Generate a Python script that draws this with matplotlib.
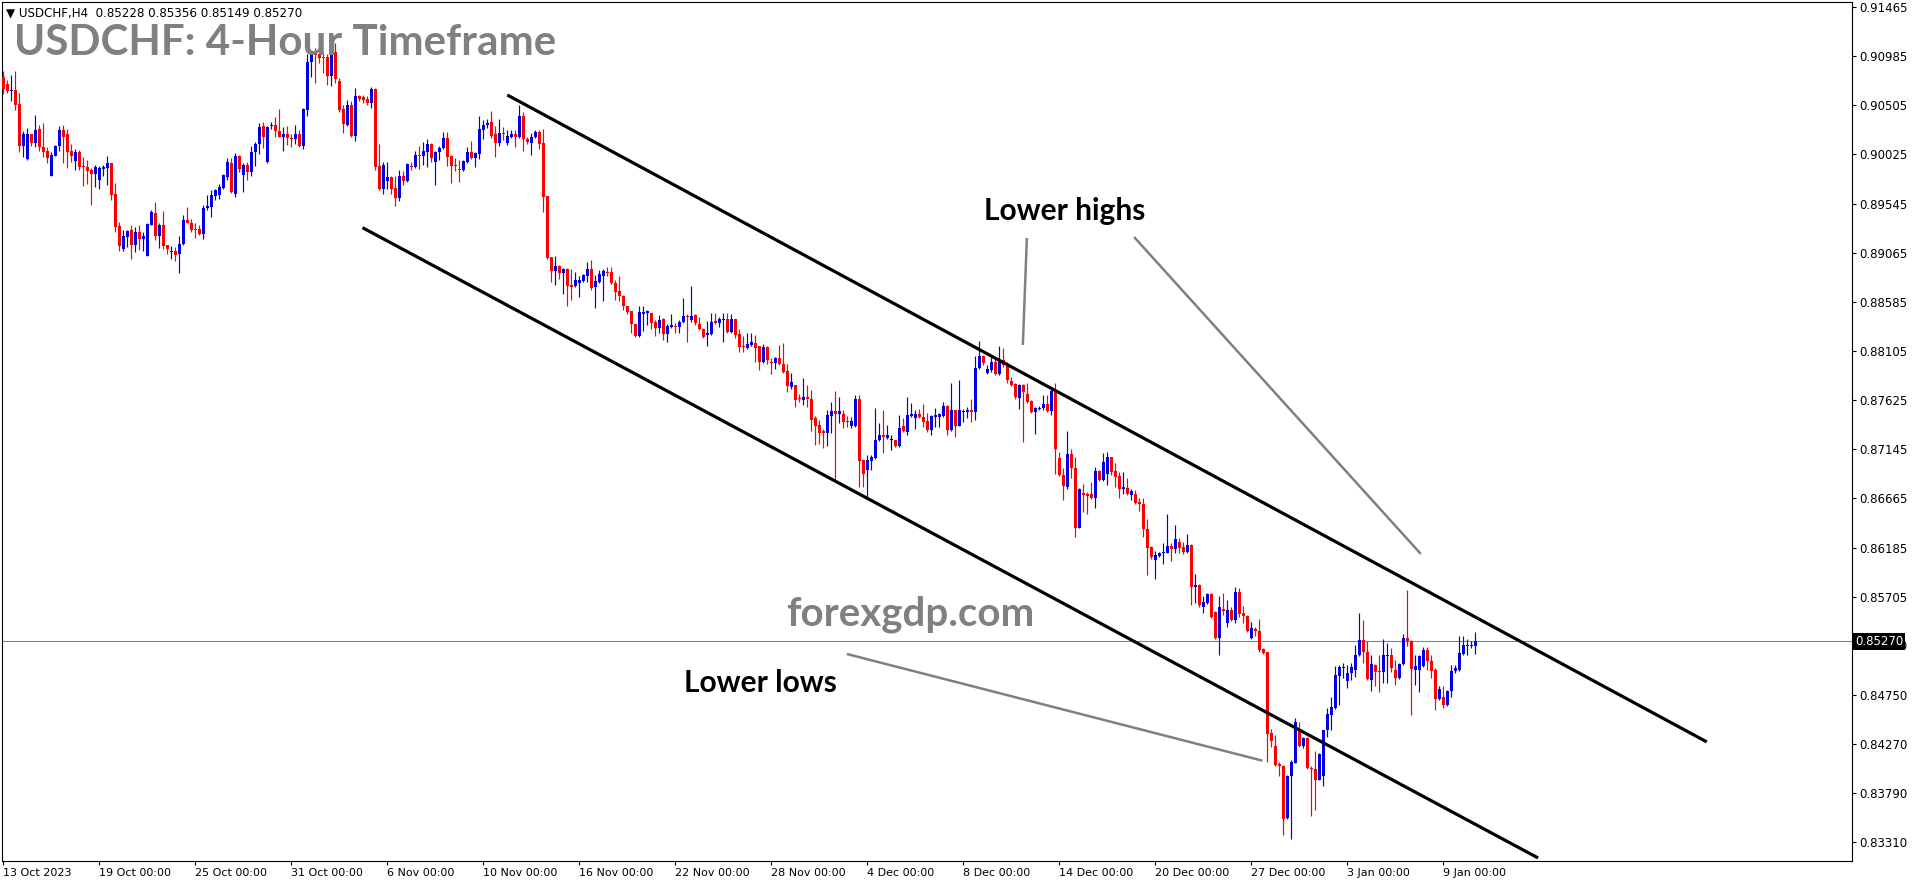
import matplotlib
matplotlib.use("Agg")
import matplotlib.pyplot as plt
import matplotlib.transforms as mtransforms
import numpy as np

W, H = 1916, 884

# USDCHF H4 candles, prices in pips (1/10000)
open_pips = [
    9078, 9071, 9064, 9065, 9052, 9011, 8998, 9022, 9014, 9027, 9010, 9006,
    8981, 9001, 9011, 9026, 9022, 9006, 8996, 9005, 8991, 8990, 8987, 8983,
    8978, 8988, 8989, 8994, 8964, 8933, 8910, 8922, 8929, 8914, 8927, 8920,
    8903, 8934, 8945, 8923, 8934, 8914, 8907, 8908, 8905, 8915, 8938, 8936,
    8930, 8930, 8925, 8950, 8951, 8962, 8963, 8970, 8980, 8994, 8964, 9001,
    8982, 8992, 8985, 9005, 9013, 9030, 8995, 9030, 9031, 9025, 9020, 9022,
    9019, 9018, 9022, 9011, 9046, 9093, 9103, 9101, 9098, 9098, 9079, 9103,
    9074, 9047, 9031, 9051, 9021, 9060, 9059, 9057, 9053, 9066, 8991, 8969,
    8977, 8980, 8970, 8960, 8981, 8977, 8991, 8990, 9002, 9001, 9005, 9013,
    8995, 9005, 9009, 9019, 9001, 8992, 8988, 8987, 8995, 9005, 8999, 9003,
    9026, 9031, 9034, 9022, 9014, 9023, 9014, 9020, 9022, 9020, 9040, 9018,
    9014, 9020, 9024, 9014, 8962, 8902, 8889, 8894, 8887, 8891, 8875, 8874,
    8877, 8879, 8884, 8891, 8873, 8878, 8884, 8888, 8888, 8877, 8869, 8864,
    8854, 8850, 8837, 8825, 8847, 8848, 8848, 8839, 8833, 8842, 8827, 8834,
    8835, 8834, 8839, 8845, 8841, 8846, 8837, 8832, 8826, 8827, 8840, 8838,
    8841, 8842, 8829, 8842, 8827, 8815, 8813, 8816, 8818, 8815, 8800, 8814,
    8800, 8799, 8804, 8798, 8791, 8775, 8777, 8765, 8763, 8766, 8764, 8745,
    8738, 8732, 8730, 8747, 8752, 8749, 8749, 8742, 8737, 8737, 8764, 8704,
    8694, 8703, 8706, 8724, 8728, 8726, 8724, 8724, 8718, 8737, 8731, 8747,
    8745, 8749, 8746, 8742, 8733, 8746, 8746, 8747, 8757, 8733, 8753, 8737,
    8751, 8751, 8753, 8751, 8794, 8806, 8789, 8792, 8800, 8788, 8802, 8797,
    8781, 8778, 8765, 8777, 8769, 8762, 8751, 8754, 8755, 8759, 8752, 8771,
    8706, 8689, 8678, 8710, 8696, 8638, 8672, 8671, 8671, 8667, 8693, 8685,
    8690, 8707, 8693, 8688, 8676, 8677, 8670, 8671, 8663, 8661, 8637, 8619,
    8606, 8610, 8613, 8613, 8620, 8617, 8624, 8619, 8614, 8621, 8580, 8582,
    8560, 8564, 8573, 8556, 8530, 8559, 8545, 8558, 8548, 8575, 8555, 8552,
    8530, 8539, 8537, 8519, 8517, 8437, 8425, 8407, 8405, 8354, 8395, 8408,
    8439, 8425, 8433, 8403, 8402, 8392, 8395, 8440, 8455, 8462, 8493, 8501,
    8488, 8496, 8499, 8514, 8528, 8517, 8489, 8504, 8498, 8497, 8513, 8514,
    8499, 8491, 8505, 8530, 8527, 8499, 8499, 8503, 8518, 8508, 8499, 8471,
    8473, 8465, 8478, 8498, 8499, 8515, 8522, 8522, 8522.8,
]
high_pips = [
    9084, 9075, 9080, 9084, 9063, 9025, 9028, 9022, 9041, 9031, 9033, 9010,
    9005, 9012, 9030, 9031, 9027, 9013, 9008, 9007, 9000, 8997, 8989, 8992,
    8991, 8992, 9001, 8994, 8975, 8937, 8929, 8929, 8934, 8932, 8934, 8927,
    8936, 8948, 8956, 8936, 8947, 8914, 8913, 8912, 8923, 8943, 8951, 8939,
    8936, 8934, 8953, 8963, 8968, 8969, 8974, 8983, 8999, 8999, 9004, 9002,
    8994, 8995, 9011, 9015, 9033, 9034, 9030, 9034, 9039, 9047, 9029, 9030,
    9022, 9031, 9026, 9048, 9101, 9104, 9106, 9104, 9102, 9101, 9105, 9111,
    9077, 9051, 9056, 9055, 9067, 9061, 9061, 9060, 9068, 9067, 9013, 8995,
    8995, 8981, 8981, 8987, 8986, 8994, 8995, 9006, 9011, 9015, 9018, 9014,
    9006, 9011, 9024, 9024, 9002, 8999, 8997, 8997, 9010, 9016, 9005, 9040,
    9036, 9037, 9045, 9030, 9037, 9029, 9026, 9026, 9026, 9051, 9044, 9020,
    9023, 9026, 9026, 9027, 8962, 8902, 8903, 8895, 8892, 8892, 8891, 8888,
    8884, 8886, 8897, 8899, 8885, 8890, 8891, 8893, 8893, 8880, 8884, 8865,
    8854, 8850, 8837, 8854, 8854, 8851, 8848, 8841, 8846, 8843, 8837, 8847,
    8838, 8841, 8862, 8847, 8874, 8847, 8844, 8833, 8840, 8848, 8848, 8844,
    8848, 8848, 8847, 8842, 8832, 8825, 8828, 8828, 8826, 8815, 8817, 8815,
    8804, 8805, 8816, 8818, 8798, 8789, 8777, 8769, 8784, 8777, 8772, 8747,
    8743, 8734, 8753, 8761, 8771, 8766, 8753, 8747, 8746, 8768, 8768, 8705,
    8709, 8709, 8755, 8740, 8753, 8738, 8728, 8724, 8748, 8745, 8766, 8760,
    8753, 8754, 8759, 8750, 8748, 8755, 8750, 8761, 8758, 8779, 8753, 8782,
    8754, 8756, 8764, 8806, 8820, 8807, 8797, 8806, 8803, 8815, 8813, 8800,
    8785, 8779, 8778, 8778, 8779, 8763, 8756, 8757, 8768, 8768, 8774, 8779,
    8712, 8696, 8732, 8715, 8707, 8677, 8681, 8673, 8683, 8697, 8694, 8711,
    8712, 8707, 8701, 8692, 8692, 8686, 8676, 8675, 8667, 8667, 8646, 8620,
    8615, 8614, 8623, 8651, 8623, 8641, 8628, 8624, 8632, 8622, 8593, 8583,
    8571, 8574, 8574, 8557, 8571, 8574, 8567, 8560, 8580, 8579, 8561, 8553,
    8546, 8541, 8549, 8520, 8517, 8441, 8435, 8409, 8406, 8396, 8411, 8452,
    8448, 8434, 8434, 8405, 8420, 8418, 8440, 8462, 8473, 8503, 8504, 8506,
    8504, 8506, 8523, 8555, 8548, 8527, 8514, 8505, 8514, 8529, 8525, 8520,
    8509, 8506, 8534, 8577, 8528, 8514, 8514, 8521, 8521, 8514, 8501, 8483,
    8483, 8479, 8504, 8504, 8532, 8532, 8529, 8527, 8535.6,
]
low_pips = [
    9062, 9063, 9055, 9046, 9005, 9000, 8997, 9011, 9010, 9006, 9000, 8994,
    8981, 9001, 9006, 8994, 8989, 8995, 8987, 8987, 8972, 8974, 8953, 8971,
    8969, 8981, 8973, 8958, 8927, 8908, 8908, 8912, 8900, 8907, 8909, 8908,
    8903, 8934, 8919, 8911, 8910, 8905, 8900, 8898, 8887, 8914, 8936, 8927,
    8921, 8924, 8920, 8948, 8941, 8958, 8959, 8969, 8978, 8965, 8961, 8985,
    8966, 8978, 8981, 8991, 9003, 9009, 8994, 9027, 9020, 9020, 9006, 9012,
    9010, 9013, 9010, 9008, 9040, 9078, 9072, 9092, 9082, 9070, 9069, 9072,
    9044, 9023, 9030, 9020, 9016, 9055, 9053, 9051, 9048, 8987, 8968, 8964,
    8969, 8964, 8952, 8957, 8973, 8976, 8987, 8989, 8988, 8992, 8990, 8995,
    8973, 8997, 9008, 8991, 8975, 8986, 8976, 8986, 8994, 8998, 8990, 8998,
    9018, 9028, 9019, 9000, 9011, 9017, 9012, 9019, 9010, 9019, 9006, 9013,
    9002, 9019, 9008, 8946, 8900, 8878, 8875, 8881, 8866, 8854, 8860, 8873,
    8863, 8878, 8878, 8870, 8853, 8877, 8859, 8884, 8876, 8860, 8859, 8851,
    8847, 8828, 8824, 8824, 8830, 8836, 8832, 8825, 8828, 8821, 8819, 8833,
    8828, 8828, 8838, 8819, 8839, 8836, 8831, 8823, 8815, 8826, 8837, 8834,
    8819, 8828, 8828, 8823, 8810, 8810, 8812, 8815, 8800, 8792, 8799, 8798,
    8788, 8793, 8797, 8789, 8770, 8773, 8756, 8761, 8758, 8756, 8732, 8719,
    8720, 8716, 8718, 8730, 8684, 8740, 8735, 8736, 8735, 8736, 8678, 8678,
    8667, 8694, 8705, 8723, 8711, 8725, 8714, 8717, 8717, 8731, 8728, 8746,
    8734, 8745, 8736, 8731, 8728, 8736, 8736, 8746, 8728, 8732, 8727, 8737,
    8741, 8745, 8741, 8743, 8793, 8797, 8788, 8790, 8787, 8787, 8795, 8779,
    8776, 8764, 8754, 8722, 8760, 8750, 8729, 8753, 8753, 8751, 8748, 8690,
    8688, 8665, 8676, 8686, 8629, 8638, 8653, 8651, 8666, 8657, 8684, 8684,
    8680, 8689, 8678, 8667, 8671, 8670, 8665, 8661, 8654, 8629, 8592, 8607,
    8588, 8609, 8602, 8613, 8605, 8613, 8613, 8612, 8613, 8562, 8564, 8560,
    8555, 8563, 8550, 8529, 8514, 8553, 8541, 8547, 8545, 8551, 8545, 8536,
    8529, 8532, 8517, 8515, 8409, 8424, 8405, 8395, 8338, 8353, 8334, 8408,
    8424, 8423, 8402, 8356, 8362, 8392, 8386, 8434, 8440, 8461, 8465, 8491,
    8481, 8489, 8492, 8513, 8506, 8489, 8478, 8483, 8477, 8486, 8486, 8497,
    8484, 8490, 8504, 8522, 8455, 8484, 8477, 8502, 8499, 8491, 8460, 8470,
    8462, 8464, 8473, 8496, 8498, 8514, 8514, 8520, 8514.9,
]
close_pips = [
    9066, 9064, 9065, 9051, 9011, 9022, 9022, 9014, 9026, 9010, 9005, 8999,
    9002, 9011, 9026, 9020, 9005, 9001, 9005, 8990, 8990, 8986, 8983, 8990,
    8989, 8990, 8994, 8963, 8932, 8913, 8923, 8928, 8914, 8927, 8920, 8923,
    8935, 8946, 8923, 8934, 8913, 8910, 8908, 8904, 8915, 8938, 8936, 8929,
    8929, 8925, 8950, 8952, 8963, 8968, 8971, 8982, 8995, 8966, 9001, 8988,
    8992, 8985, 9005, 9013, 9029, 9020, 9029, 9031, 9025, 9020, 9022, 9019,
    9018, 9022, 9011, 9047, 9093, 9102, 9100, 9097, 9097, 9079, 9104, 9076,
    9046, 9032, 9051, 9021, 9060, 9057, 9056, 9053, 9066, 8990, 8969, 8992,
    8980, 8969, 8960, 8981, 8977, 8993, 8990, 9002, 9001, 9006, 9013, 8999,
    9005, 9009, 9019, 9000, 8991, 8991, 8987, 8996, 9005, 8999, 9004, 9027,
    9031, 9033, 9021, 9014, 9023, 9022, 9021, 9022, 9020, 9040, 9018, 9015,
    9020, 9024, 9013, 8961, 8901, 8889, 8894, 8887, 8891, 8874, 8873, 8880,
    8880, 8885, 8891, 8872, 8879, 8886, 8889, 8887, 8877, 8868, 8864, 8854,
    8849, 8837, 8825, 8849, 8849, 8850, 8838, 8833, 8841, 8827, 8835, 8836,
    8834, 8839, 8845, 8844, 8845, 8838, 8832, 8824, 8828, 8839, 8838, 8842,
    8842, 8829, 8842, 8826, 8814, 8814, 8817, 8819, 8813, 8800, 8814, 8802,
    8799, 8804, 8798, 8790, 8776, 8780, 8763, 8764, 8766, 8764, 8743, 8737,
    8730, 8730, 8748, 8752, 8749, 8752, 8741, 8741, 8742, 8764, 8703, 8690,
    8704, 8707, 8724, 8728, 8727, 8728, 8724, 8718, 8735, 8732, 8748, 8749,
    8749, 8746, 8741, 8733, 8747, 8748, 8749, 8757, 8733, 8753, 8737, 8753,
    8752, 8753, 8751, 8794, 8806, 8799, 8793, 8800, 8788, 8802, 8797, 8782,
    8777, 8766, 8777, 8770, 8761, 8751, 8755, 8755, 8759, 8752, 8771, 8715,
    8689, 8679, 8710, 8696, 8638, 8676, 8670, 8669, 8667, 8693, 8685, 8702,
    8707, 8692, 8687, 8676, 8678, 8671, 8674, 8662, 8661, 8637, 8618, 8609,
    8611, 8613, 8614, 8620, 8617, 8627, 8618, 8614, 8621, 8580, 8582, 8562,
    8565, 8573, 8551, 8530, 8560, 8557, 8558, 8548, 8575, 8554, 8552, 8537,
    8540, 8537, 8518, 8516, 8436, 8430, 8406, 8405, 8353, 8395, 8409, 8448,
    8425, 8433, 8403, 8402, 8392, 8417, 8440, 8456, 8463, 8494, 8502, 8502,
    8496, 8502, 8514, 8528, 8517, 8490, 8505, 8497, 8497, 8514, 8514, 8501,
    8491, 8505, 8530, 8527, 8500, 8503, 8513, 8518, 8508, 8498, 8471, 8480,
    8465, 8478, 8498, 8501, 8516, 8523, 8523, 8523, 8527.0,
]

date_labels = ['13 Oct 2023', '19 Oct 00:00', '25 Oct 00:00', '31 Oct 00:00',
               '6 Nov 00:00', '10 Nov 00:00', '16 Nov 00:00', '22 Nov 00:00',
               '28 Nov 00:00', '4 Dec 00:00', '8 Dec 00:00', '14 Dec 00:00',
               '20 Dec 00:00', '27 Dec 00:00', '3 Jan 00:00', '9 Jan 00:00']
BARS_PER_LABEL = 24

price_ticks = [0.91465, 0.90985, 0.90505, 0.90025, 0.89545, 0.89065, 0.88585,
               0.88105, 0.87625, 0.87145, 0.86665, 0.86185, 0.85705, 0.85230,
               0.84750, 0.84270, 0.83790, 0.83310]
last_price = 0.85270
header = "\u25BC USDCHF,H4  0.85228 0.85356 0.85149 0.85270"

# trend channel and pointer lines as (bar index, price)
upper_channel = ([126.0, 425.9], [0.90606, 0.84287])
lower_channel = ([89.8, 383.7], [0.89310, 0.83154])
pointer_highs_a = ([255.9, 254.9], [0.89209, 0.88164])
pointer_highs_b = ([282.7, 354.4], [0.89219, 0.86123])
pointer_lows = ([210.9, 314.8], [0.85146, 0.84104])

o = np.array(open_pips) / 1e4
c = np.array(close_pips) / 1e4
h = np.maximum(np.array(high_pips) / 1e4, np.maximum(o, c))
l = np.minimum(np.array(low_pips) / 1e4, np.minimum(o, c))
idx = np.arange(len(o))

BULL = '#0000e6'
BEAR = '#ff0000'
colors = np.where(c > o, BULL, np.where(c < o, BEAR, '#000000'))

fig = plt.figure(figsize=(W / 100, H / 100), dpi=100)
ax = fig.add_axes([2 / W, 1 - 861 / H, 1850 / W, 859 / H])
ax.set_xlim(-0.33, 462.2)
ax.set_ylim(0.83124, 0.91514)

ax.vlines(idx, l, h, colors=colors, lw=0.85, zorder=2)
body_lo = np.minimum(o, c)
body_h = np.maximum(np.abs(c - o), 0.00008)
ax.bar(idx, body_h, bottom=body_lo, width=0.75, color=colors, linewidth=0, zorder=3)

ax.axhline(last_price, color='#778899', lw=0.8, zorder=1)

for xs, ys in (upper_channel, lower_channel):
    ax.plot(xs, ys, color='black', lw=2.3, solid_capstyle='butt', zorder=4)
for xs, ys in (pointer_highs_a, pointer_highs_b, pointer_lows):
    ax.plot(xs, ys, color='#808080', lw=1.8, solid_capstyle='butt', zorder=4)

ann_font = dict(family='Lato', weight='bold')
ax.text(245.2, 0.89385, 'Lower highs', fontsize=21.5, color='black', ha='left', va='baseline', **ann_font)
ax.text(170.2, 0.84775, 'Lower lows', fontsize=21.5, color='black', ha='left', va='baseline', **ann_font)
ax.text(195.7, 0.85429, 'forexgdp.com', fontsize=29, color='#808080', ha='left', va='baseline', **ann_font)

fig.text(14 / W, 1 - 55 / H, 'USDCHF: 4-Hour Timeframe', fontsize=30.3, color='#808080',
         ha='left', va='baseline', **ann_font)
fig.text(6 / W, 1 - 13 / H, header, fontsize=8.6, color='black', ha='left', va='center',
         family='DejaVu Sans')

# axes styling like the terminal
for s in ax.spines.values():
    s.set_color('black')
    s.set_linewidth(0.8)
ax.yaxis.tick_right()
ax.set_yticks(price_ticks)
ax.set_yticklabels([f"{p:.5f}" for p in price_ticks])
ax.tick_params(axis='y', direction='out', length=3, width=0.8, pad=2, labelsize=8.5, colors='black')
ax.set_xticks([i * BARS_PER_LABEL for i in range(len(date_labels))])
ax.set_xticklabels(date_labels)
ax.tick_params(axis='x', direction='out', length=3, width=0.8, pad=2, labelsize=8, colors='black')
for lbl in ax.get_xticklabels():
    lbl.set_ha('left')

trans = mtransforms.blended_transform_factory(ax.transAxes, ax.transData)
trans = trans + mtransforms.ScaledTranslation(3 / 100, 0, fig.dpi_scale_trans)
ax.text(1.0, last_price, f"{last_price:.5f}", transform=trans, ha='left', va='center',
        fontsize=8.5, color='white', zorder=10, clip_on=False,
        bbox=dict(boxstyle='square,pad=0.15', fc='black', ec='none'))

fig.savefig('out.png', dpi=100)
